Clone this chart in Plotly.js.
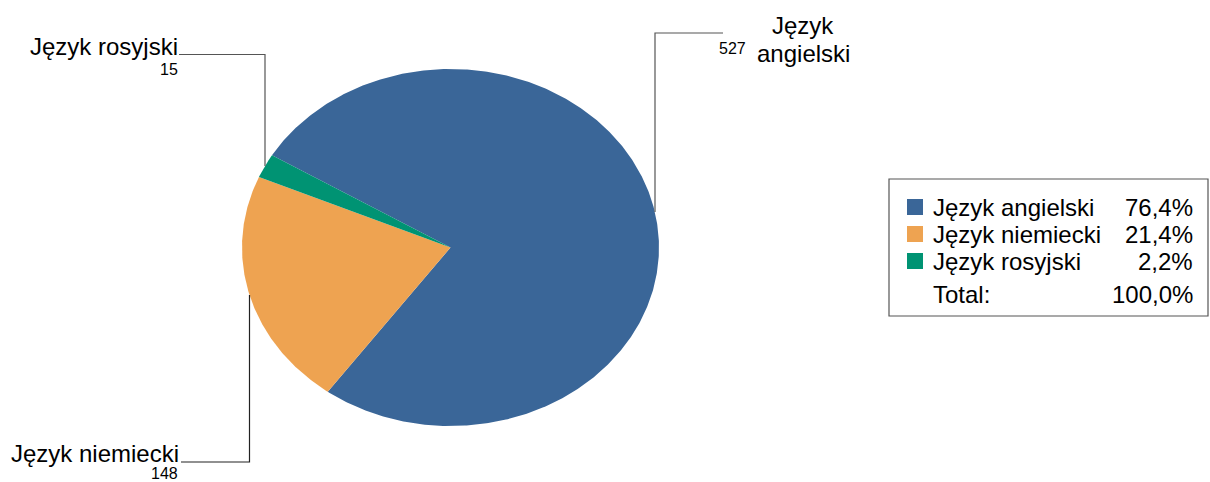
<!DOCTYPE html>
<html>
<head>
<meta charset="utf-8">
<script src="https://cdn.plot.ly/plotly-3.0.1.min.js"></script>
<style>
  html, body { margin: 0; padding: 0; background: #ffffff; }
  #chart { width: 1210px; height: 482px; }
</style>
</head>
<body>
<div id="chart"></div>
<script>
// ---- data ----
const categories = ["Język angielski", "Język niemiecki", "Język rosyjski"];
const values = [527, 148, 15];
const colors = ["#3A6698", "#EEA351", "#009373"];
const totalLabel = "Total:";

// ---- geometry (layout only) ----
const W = 1210, H = 482;
const cx = 450.5, cy = 247.5, rx = 208.5, ry = 178.5;
const startDeg = 148.9; // angle where the first slice begins, going clockwise
const FONT = "Liberation Sans, Arial, sans-serif";

const total = values.reduce((a, b) => a + b, 0);
const traces = [];
let angle = startDeg;
values.forEach((v, i) => {
  const span = v / total * 360;
  const xs = [cx], ys = [cy];
  const n = Math.max(4, Math.ceil(span * 2));
  for (let k = 0; k <= n; k++) {
    const t = (angle - span * k / n) * Math.PI / 180;
    xs.push(cx + rx * Math.cos(t));
    ys.push(cy - ry * Math.sin(t));
  }
  xs.push(cx); ys.push(cy);
  traces.push({
    type: "scatter", mode: "lines", x: xs, y: ys, fill: "toself",
    fillcolor: colors[i], line: { width: 0, color: colors[i] },
    hoverinfo: "skip", showlegend: false
  });
  angle -= span;
});

const fmtPct = p => p.toFixed(1).replace(".", ",") + "%";

const shapes = [];
const annotations = [];
const lineStyle = { color: "#555555", width: 1.2 };

// leader lines
shapes.push({ type: "path", xref: "x", yref: "y", path: "M 655 212 L 655 33 L 723 33", line: lineStyle });
shapes.push({ type: "path", xref: "x", yref: "y", path: "M 265 166 L 265 54.5 L 179 54.5", line: lineStyle });
shapes.push({ type: "path", xref: "x", yref: "y", path: "M 249.5 295 L 249.5 462 L 181 462", line: { color: "#222222", width: 1.2 } });

// data labels
const labelFont = { family: FONT, size: 24, color: "#000000" };
const numFont = { family: FONT, size: 16, color: "#000000" };
const base = { xref: "x", yref: "y", showarrow: false, borderpad: 0 };
// angielski (two lines)
const angWords = categories[0].split(" ");
annotations.push(Object.assign({ x: 803, y: 25, text: angWords[0], xanchor: "center", yanchor: "middle", font: labelFont }, base));
annotations.push(Object.assign({ x: 803, y: 53, text: angWords[1], xanchor: "center", yanchor: "middle", font: labelFont }, base));
annotations.push(Object.assign({ x: 747, y: 48, text: String(values[0]), xanchor: "right", yanchor: "middle", font: numFont }, base));
// rosyjski
annotations.push(Object.assign({ x: 179, y: 46, text: categories[2], xanchor: "right", yanchor: "middle", font: labelFont }, base));
annotations.push(Object.assign({ x: 179, y: 69, text: String(values[2]), xanchor: "right", yanchor: "middle", font: numFont }, base));
// niemiecki
annotations.push(Object.assign({ x: 180, y: 453, text: categories[1], xanchor: "right", yanchor: "middle", font: labelFont }, base));
annotations.push(Object.assign({ x: 179, y: 473, text: String(values[1]), xanchor: "right", yanchor: "middle", font: numFont }, base));

// legend box
shapes.push({ type: "rect", xref: "x", yref: "y", x0: 889, x1: 1208, y0: 179, y1: 316,
  line: { color: "#555555", width: 1.2 }, fillcolor: "rgba(0,0,0,0)" });
const rowY = [207, 234, 261, 294];
categories.forEach((c, i) => {
  shapes.push({ type: "rect", xref: "x", yref: "y", x0: 907, x1: 923, y0: rowY[i] - 8, y1: rowY[i] + 8,
    line: { width: 0 }, fillcolor: colors[i] });
  annotations.push(Object.assign({ x: 932, y: rowY[i], text: c, xanchor: "left", yanchor: "middle", font: labelFont }, base));
  annotations.push(Object.assign({ x: 1194, y: rowY[i], text: fmtPct(values[i] / total * 100), xanchor: "right", yanchor: "middle", font: labelFont }, base));
});
annotations.push(Object.assign({ x: 932, y: rowY[3], text: totalLabel, xanchor: "left", yanchor: "middle", font: labelFont }, base));
annotations.push(Object.assign({ x: 1194, y: rowY[3], text: fmtPct(100), xanchor: "right", yanchor: "middle", font: labelFont }, base));

const layout = {
  width: W, height: H,
  margin: { l: 0, r: 0, t: 0, b: 0 },
  paper_bgcolor: "#ffffff", plot_bgcolor: "#ffffff",
  xaxis: { range: [0, W], visible: false, fixedrange: true },
  yaxis: { range: [H, 0], visible: false, fixedrange: true },
  showlegend: false,
  shapes: shapes,
  annotations: annotations
};

Plotly.newPlot("chart", traces, layout, { displayModeBar: false, staticPlot: true });
</script>
</body>
</html>
